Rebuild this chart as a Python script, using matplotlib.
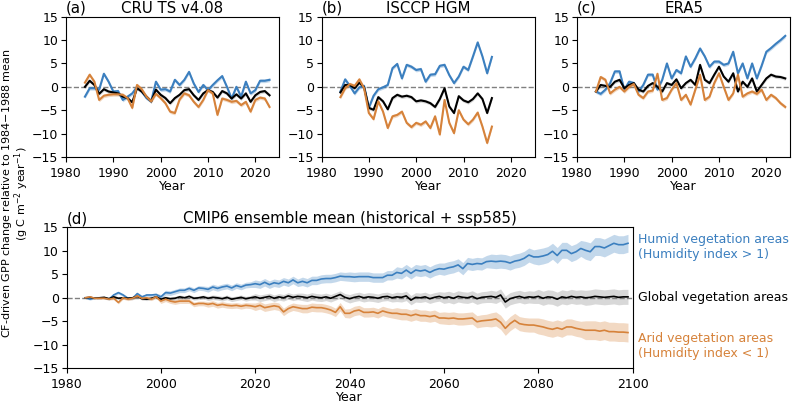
import numpy as np
import matplotlib.pyplot as plt

plt.rcParams['font.size'] = 9

BLUE = '#3b7fbf'
ORANGE = '#d6823a'

# ---- (a) CRU TS v4.08, 1984-2023
yrs_a = np.arange(1984, 2024)
humid_a = [-2.1, -0.3, -0.3, -0.6, 2.8, 1.1, -1.0, -0.9, -2.8, -2.1,
           -1.4, 0.0, -1.0, -2.4, -3.1, 1.1, -0.6, -0.5, -1.0, 1.5,
           0.4, 1.5, 3.2, 0.7, -1.1, 0.4, -0.7, 0.4, 1.4, 2.3,
           0.0, -2.5, 0.0, -2.1, 1.1, -1.4, -0.7, 1.3, 1.3, 1.5]
glob_a = [0.0, 1.3, 0.4, -1.5, -0.5, -1.0, -1.2, -1.4, -2.1, -2.4,
          -3.3, -0.3, -1.0, -2.1, -3.1, -0.6, -1.7, -2.4, -3.5, -2.4,
          -1.7, -0.7, -0.5, -1.8, -2.8, -1.4, -0.7, -1.1, -2.3, -0.9,
          -1.4, -2.5, -1.6, -2.5, -1.4, -3.2, -1.8, -1.1, -0.9, -1.8]
arid_a = [0.9, 2.6, 1.1, -2.8, -1.9, -1.7, -1.6, -1.6, -1.7, -2.4,
          -4.5, 0.4, -0.5, -2.1, -3.1, -1.5, -2.4, -3.5, -5.3, -5.6,
          -2.7, -1.4, -1.8, -3.2, -4.3, -2.8, -0.7, -1.4, -6.0, -2.5,
          -2.8, -3.2, -3.0, -3.9, -3.2, -5.3, -2.8, -2.3, -2.5, -4.3]

# ---- (b) ISCCP HGM, 1984-2016
yrs_b = np.arange(1984, 2017)
humid_b = [-1.0, 1.6, 0.2, -1.4, -0.1, 0.2, -4.5, -1.9, -0.5, -0.1,
           0.4, 4.0, 4.9, 1.8, 4.7, 4.3, 3.6, 3.8, 1.1, 2.6,
           2.7, 4.5, 4.7, 2.5, 0.8, 2.2, 4.3, 3.6, 6.5, 9.5,
           6.5, 2.9, 6.4]
glob_b = [-1.2, 0.4, 0.4, -0.3, 0.9, -0.1, -4.5, -4.9, -2.2, -3.1,
          -4.8, -2.4, -1.7, -2.1, -1.9, -2.2, -3.1, -2.9, -3.1, -3.5,
          -4.3, -2.6, -0.3, -4.2, -5.6, -2.0, -2.9, -3.3, -2.6, -1.4,
          -2.6, -5.6, -2.4]
arid_b = [-2.2, -0.3, 0.6, 0.2, 1.6, -0.3, -5.6, -6.9, -3.1, -5.3,
          -8.8, -6.3, -6.0, -5.3, -7.7, -8.6, -7.7, -8.1, -7.4, -8.8,
          -6.3, -10.2, -2.8, -7.7, -9.9, -5.0, -7.0, -8.0, -7.0, -5.5,
          -8.5, -12.0, -8.5]

# ---- (c) ERA5, 1984-2024
yrs_c = np.arange(1984, 2025)
humid_c = [-1.0, -1.5, -0.6, 0.8, 3.3, 3.3, -0.6, 1.1, 0.8, -1.0,
           0.4, 2.6, 2.6, -0.6, 1.5, 5.0, 1.8, 3.6, 2.9, 6.5,
           4.3, 6.1, 8.2, 6.5, 4.3, 5.4, 5.4, 4.7, 5.0, 7.5,
           2.9, 5.0, 1.8, 5.0, 1.8, 4.5, 7.5, 8.3, 9.2, 10.0, 10.9]
glob_c = [-1.0, 0.4, 0.2, 0.0, 1.1, 1.5, -0.3, 0.4, 0.8, -0.6,
          -1.0, 0.2, 0.8, 0.0, -1.0, 0.8, 0.4, 1.6, -0.3, 0.8,
          1.5, 0.4, 4.7, 1.5, 0.8, 2.6, 4.3, 2.2, 1.1, 2.9,
          -1.0, 1.1, 0.0, 1.8, -1.0, 0.4, 1.8, 2.6, 2.2, 2.1, 1.8]
arid_c = [-1.0, 2.1, 1.5, -1.4, -0.6, 0.0, -1.0, 0.0, 0.6, -1.7,
          -2.4, -1.0, -0.8, 2.8, -2.8, -2.4, -0.6, 0.8, -2.8, -1.7,
          -3.8, -0.6, 2.6, -2.8, -2.1, 0.8, 2.9, 0.0, -2.8, -1.4,
          2.6, -2.1, -1.4, -1.0, -1.5, -0.6, -2.8, -1.7, -2.4, -3.5, -4.3]

# ---- (d) CMIP6 ensemble mean, 1984-2099
yrs_d = np.arange(1984, 2100)
humid_d = [0.0, -0.3, 0.0, 0.0, 0.0, -0.3,
           0.6, 1.1, 0.6, -0.1, -0.1, 0.9, 0.2, 0.6, 0.6, 0.7,
           0.2, 1.1, 1.0, 1.3, 1.6, 1.6, 2.0, 1.6, 2.1, 2.0,
           1.8, 2.3, 2.0, 2.3, 2.5, 2.1, 2.6, 2.3, 2.7, 2.8,
           3.0, 2.8, 3.3, 2.8, 3.2, 3.0, 3.5, 3.2, 3.8, 3.2,
           3.5, 3.2, 3.7, 3.7, 4.0, 4.1, 4.1, 4.3, 4.6, 4.5,
           4.5, 4.4, 4.5, 4.5, 4.5, 4.3, 4.3, 4.3, 4.8, 4.8,
           5.4, 5.2, 5.9, 5.2, 5.9, 5.7, 5.9, 5.4, 5.9, 6.2,
           6.1, 6.4, 6.6, 7.0, 6.2, 7.3, 7.1, 7.3, 7.2, 7.7,
           7.8, 7.7, 7.8, 7.7, 7.4, 7.8, 8.0, 8.4, 9.1, 8.7,
           8.7, 8.9, 9.2, 9.9, 9.0, 10.1, 10.1, 9.4, 9.8, 10.5,
           10.1, 9.8, 10.9, 10.9, 10.6, 11.1, 11.6, 11.3, 11.3, 11.6]
glob_d = [0.0, 0.1, -0.1, 0.0, 0.1, -0.2,
          0.2, -0.1, 0.0, -0.1, 0.0, 0.3, -0.2, -0.3, -0.1, 0.2,
          -0.3, 0.0, -0.2, -0.1, 0.2, 0.0, 0.3, -0.1, 0.0, 0.2,
          -0.1, 0.1, 0.0, -0.2, 0.1, -0.3, -0.1, 0.1, -0.2, 0.0,
          0.2, -0.1, 0.1, 0.3, -0.1, 0.2, 0.0, 0.4, 0.1, 0.3,
          0.2, 0.0, 0.3, 0.1, 0.0, 0.2, -0.1, 0.3, 0.7, 0.1,
          -0.2, 0.1, 0.3, 0.0, 0.2, 0.1, -0.1, 0.2, 0.3, 0.0,
          0.2, 0.1, 0.4, -0.5, 0.1, 0.0, 0.2, -0.2, 0.1, 0.3,
          0.0, 0.2, -0.1, 0.3, 0.1, 0.0, 0.3, -0.2, 0.1, 0.2,
          0.3, 0.1, 0.6, -0.9, -0.2, 0.1, 0.3, 0.0, 0.2, 0.1,
          0.3, -0.1, 0.2, 0.1, -0.3, 0.2, 0.0, 0.3, 0.1, 0.2,
          0.0, 0.1, 0.3, 0.2, 0.1, 0.2, 0.3, 0.1, 0.2, 0.2]
arid_d = [0.0, 0.2, -0.1, -0.1, -0.1, -0.3,
          -0.1, -1.0, 0.0, -0.3, -0.1, 0.4, -0.1, 0.0, -0.3, 0.2,
          -0.7, -0.3, -0.7, -0.9, -0.7, -0.7, -0.7, -1.4, -1.2, -1.2,
          -1.4, -1.2, -1.6, -1.4, -1.6, -1.7, -1.6, -1.8, -1.6, -1.7,
          -1.9, -1.6, -2.1, -1.9, -1.7, -1.9, -3.0, -2.3, -1.9, -2.1,
          -2.3, -2.3, -2.0, -2.1, -2.1, -2.3, -2.6, -3.1, -1.9, -3.3,
          -3.3, -2.8, -2.6, -3.1, -3.1, -3.0, -3.3, -2.8, -3.1, -3.3,
          -3.3, -3.5, -3.5, -3.8, -3.5, -3.8, -3.8, -4.0, -3.8, -4.3,
          -4.3, -4.4, -4.3, -4.5, -4.5, -4.4, -4.3, -5.1, -4.9, -4.8,
          -4.7, -4.5, -5.2, -6.5, -5.5, -4.8, -5.5, -5.7, -5.8, -5.8,
          -6.0, -6.2, -6.5, -6.7, -6.4, -6.7, -6.2, -6.2, -6.5, -6.7,
          -6.9, -6.9, -6.9, -7.1, -6.9, -7.2, -7.2, -7.3, -7.3, -7.4]

# spread of the CMIP6 ensemble, one value per decade (1980s ... 2090s)
decade_len = [6, 10, 10, 10, 10, 10, 10, 10, 10, 10, 10, 10]
humid_sd = [0.2, 0.3, 0.5, 0.6, 0.8, 0.9, 1.0, 1.2, 1.3, 1.5, 1.7, 1.9]
glob_sd = [0.2, 0.3, 0.4, 0.5, 0.7, 0.8, 0.9, 1.0, 1.2, 1.3, 1.5, 1.6]
arid_sd = [0.2, 0.3, 0.5, 0.6, 0.8, 0.9, 1.0, 1.2, 1.3, 1.5, 1.7, 2.0]
obs_sd = 0.4

fig = plt.figure(figsize=(7.94, 4.03), dpi=100)
W, H = 794, 403
top_b, top_h = 1 - 157 / H, 140.3 / H
ax_a = fig.add_axes([66 / W, top_b, 213 / W, top_h])
ax_b = fig.add_axes([321.5 / W, top_b, 213 / W, top_h])
ax_c = fig.add_axes([577 / W, top_b, 213 / W, top_h])
ax_d = fig.add_axes([66.5 / W, 1 - 368.3 / H, 566.2 / W, 141 / H])


def draw(ax, x, series, sds, lw):
    ax.axhline(0, color='grey', ls='--', lw=1, zorder=1)
    for y, sd, c in zip(series, sds, [BLUE, 'black', ORANGE]):
        y = np.array(y)
        sd = np.array(sd)
        fc = 'grey' if c == 'black' else c
        ax.fill_between(x, y - sd, y + sd, color=fc, alpha=0.3, lw=0, zorder=2)
        ax.plot(x, y, color=c, lw=lw, zorder=3)
    ax.set_ylim(-15, 15)
    ax.set_yticks([-15, -10, -5, 0, 5, 10, 15])
    ax.tick_params(axis='y', pad=2)
    ax.set_xlabel('Year', labelpad=0)


for ax, x, h, g, a, name, lab in [
        (ax_a, yrs_a, humid_a, glob_a, arid_a, 'CRU TS v4.08', '(a)'),
        (ax_b, yrs_b, humid_b, glob_b, arid_b, 'ISCCP HGM', '(b)'),
        (ax_c, yrs_c, humid_c, glob_c, arid_c, 'ERA5', '(c)')]:
    draw(ax, x, [h, g, a], [obs_sd] * 3, 1.5)
    ax.set_xlim(1980, 2025)
    ax.set_xticks([1980, 1990, 2000, 2010, 2020])
    ax.set_title(name, pad=3)
    ax.set_title(lab, loc='left', pad=3)

sd_list = [np.repeat(s, decade_len) for s in (humid_sd, glob_sd, arid_sd)]
draw(ax_d, yrs_d, [humid_d, glob_d, arid_d], sd_list, 1.2)
ax_d.set_xlim(1980, 2100)
ax_d.set_xticks(np.arange(1980, 2101, 20))
ax_d.set_title('CMIP6 ensemble mean (historical + ssp585)', pad=3)
ax_d.set_title('(d)', loc='left', pad=3)

tr = ax_d.get_yaxis_transform()
ax_d.text(1.01, 10.8, 'Humid vegetation areas\n(Humidity index > 1)',
          color=BLUE, transform=tr, va='center', ha='left')
ax_d.text(1.01, 0, 'Global vegetation areas', color='black',
          transform=tr, va='center', ha='left')
ax_d.text(1.01, -10.3, 'Arid vegetation areas\n(Humidity index < 1)',
          color=ORANGE, transform=tr, va='center', ha='left')

fig.text(0.0, 0.52,
         'CF-driven GPP change relative to 1984$-$1988 mean\n'
         '(g C m$^{-2}$ year$^{-1}$)',
         rotation=90, va='center', ha='left', multialignment='center',
         linespacing=0.9, fontsize=8)

fig.savefig('out.png', dpi=100)
